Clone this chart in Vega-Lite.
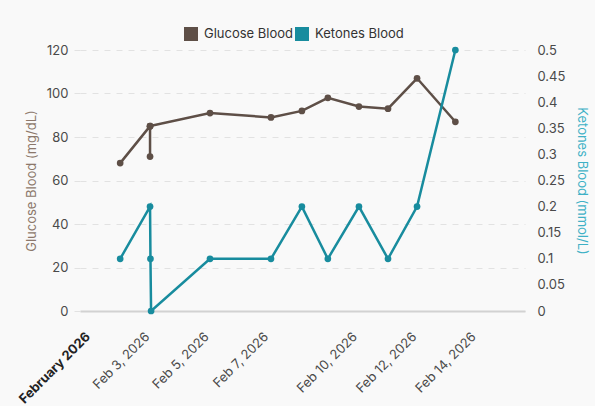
{
  "$schema": "https://vega.github.io/schema/vega-lite/v6.json",
  "autosize": "none",
  "width": 445,
  "height": 261,
  "padding": {"left": 80, "top": 50, "right": 70, "bottom": 95},
  "background": "#f9f9f9",
  "config": {
    "view": {"stroke": null},
    "font": "Inter",
    "axis": {"labelFont": "Inter", "titleFont": "Inter", "labelColor": "#4a4a4a", "labelFontSize": 13, "titleFontSize": 13, "titleFontWeight": "normal"},
    "legend": {"labelFont": "Inter"}
  },
  "data": {
    "values": [
      {"t": "2026-02-02T00:00:00", "series": "Glucose Blood", "value": 68, "seq": 1},
      {"t": "2026-02-03T00:10:00", "series": "Glucose Blood", "value": 85, "seq": 2},
      {"t": "2026-02-03T00:10:00", "series": "Glucose Blood", "value": 71, "seq": 3},
      {"t": "2026-02-03T00:10:00", "series": "Glucose Blood", "value": 85, "seq": 4},
      {"t": "2026-02-05T00:40:00", "series": "Glucose Blood", "value": 91, "seq": 5},
      {"t": "2026-02-07T02:00:00", "series": "Glucose Blood", "value": 89, "seq": 6},
      {"t": "2026-02-08T03:00:00", "series": "Glucose Blood", "value": 92, "seq": 7},
      {"t": "2026-02-09T00:00:00", "series": "Glucose Blood", "value": 98, "seq": 8},
      {"t": "2026-02-10T01:10:00", "series": "Glucose Blood", "value": 94, "seq": 9},
      {"t": "2026-02-11T00:40:00", "series": "Glucose Blood", "value": 93, "seq": 10},
      {"t": "2026-02-12T00:10:00", "series": "Glucose Blood", "value": 107, "seq": 11},
      {"t": "2026-02-13T07:10:00", "series": "Glucose Blood", "value": 87, "seq": 12},
      {"t": "2026-02-02T00:00:00", "series": "Ketones Blood", "value": 0.1, "seq": 1},
      {"t": "2026-02-03T00:10:00", "series": "Ketones Blood", "value": 0.2, "seq": 2},
      {"t": "2026-02-03T00:30:00", "series": "Ketones Blood", "value": 0.1, "seq": 3},
      {"t": "2026-02-03T01:00:00", "series": "Ketones Blood", "value": 0, "seq": 4},
      {"t": "2026-02-05T00:40:00", "series": "Ketones Blood", "value": 0.1, "seq": 5},
      {"t": "2026-02-07T02:00:00", "series": "Ketones Blood", "value": 0.1, "seq": 6},
      {"t": "2026-02-08T03:00:00", "series": "Ketones Blood", "value": 0.2, "seq": 7},
      {"t": "2026-02-09T00:00:00", "series": "Ketones Blood", "value": 0.1, "seq": 8},
      {"t": "2026-02-10T01:10:00", "series": "Ketones Blood", "value": 0.2, "seq": 9},
      {"t": "2026-02-11T00:40:00", "series": "Ketones Blood", "value": 0.1, "seq": 10},
      {"t": "2026-02-12T00:10:00", "series": "Ketones Blood", "value": 0.2, "seq": 11},
      {"t": "2026-02-13T07:10:00", "series": "Ketones Blood", "value": 0.5, "seq": 12}
    ]
  },
  "encoding": {
    "x": {
      "field": "t",
      "type": "temporal",
      "title": null,
      "scale": {
        "domain": [
          {"year": 2026, "month": 1, "date": 31, "hours": 15, "minutes": 30},
          {"year": 2026, "month": 2, "date": 15, "hours": 15, "minutes": 30}
        ]
      },
      "axis": {
        "values": [
          {"year": 2026, "month": 2, "date": 1},
          {"year": 2026, "month": 2, "date": 3},
          {"year": 2026, "month": 2, "date": 5},
          {"year": 2026, "month": 2, "date": 7},
          {"year": 2026, "month": 2, "date": 10},
          {"year": 2026, "month": 2, "date": 12},
          {"year": 2026, "month": 2, "date": 14}
        ],
        "labelExpr": "date(datum.value) == 1 ? 'February 2026' : timeFormat(datum.value, '%b %-d, %Y')",
        "labelFontWeight": {"condition": {"test": "date(datum.value) == 1", "value": "bold"}, "value": "normal"},
        "labelColor": {"condition": {"test": "date(datum.value) == 1", "value": "#222222"}, "value": "#4a4a4a"},
        "labelAngle": -45,
        "labelPadding": 19,
        "labelOffset": -7,
        "ticks": false,
        "grid": false,
        "domainColor": "#d2d2d2",
        "domainWidth": 2,
        "labelOverlap": false
      }
    },
    "order": {"field": "seq", "type": "quantitative"},
    "color": {
      "field": "series",
      "type": "nominal",
      "scale": {"domain": ["Glucose Blood", "Ketones Blood"], "range": ["#5e4f47", "#188c9e"]},
      "legend": {
        "title": null,
        "orient": "none",
        "direction": "horizontal",
        "legendX": 104,
        "legendY": -23,
        "symbolType": "square",
        "symbolSize": 196,
        "labelFontSize": 13,
        "labelColor": "#333333",
        "labelOffset": 6,
        "columnPadding": 1,
        "encode": {
          "symbols": {
            "update": {
              "fill": {"scale": "color", "field": "value"},
              "fillOpacity": {"value": 1},
              "strokeWidth": {"value": 0}
            }
          }
        }
      }
    }
  },
  "layer": [
    {
      "transform": [{"filter": "datum.series == 'Glucose Blood'"}],
      "mark": {"type": "line", "strokeWidth": 2.5, "point": {"filled": true, "size": 45, "opacity": 1}},
      "encoding": {
        "y": {
          "field": "value",
          "type": "quantitative",
          "title": "Glucose Blood (mg/dL)",
          "scale": {"domain": [0, 120]},
          "axis": {
            "values": [0, 20, 40, 60, 80, 100, 120],
            "titleColor": "#8c786b",
            "titlePadding": 8,
            "domain": false,
            "grid": true,
            "gridColor": "#e2e2e2",
            "gridDash": [6, 6],
            "tickColor": "#e2e2e2",
            "tickSize": 8,
            "tickDash": [6, 6],
            "labelPadding": 4
          }
        }
      }
    },
    {
      "transform": [{"filter": "datum.series == 'Ketones Blood'"}],
      "mark": {"type": "line", "strokeWidth": 2.5, "point": {"filled": true, "size": 45, "opacity": 1}},
      "encoding": {
        "y": {
          "field": "value",
          "type": "quantitative",
          "title": "Ketones Blood (mmol/L)",
          "scale": {"domain": [0, 0.5]},
          "axis": {
            "orient": "right",
            "values": [0, 0.05, 0.1, 0.15, 0.2, 0.25, 0.3, 0.35, 0.4, 0.45, 0.5],
            "format": "~g",
            "titleColor": "#3fb1c6",
            "titlePadding": 10,
            "domain": false,
            "grid": false,
            "ticks": false,
            "labelPadding": 12
          }
        }
      }
    }
  ],
  "resolve": {"scale": {"y": "independent"}}
}
